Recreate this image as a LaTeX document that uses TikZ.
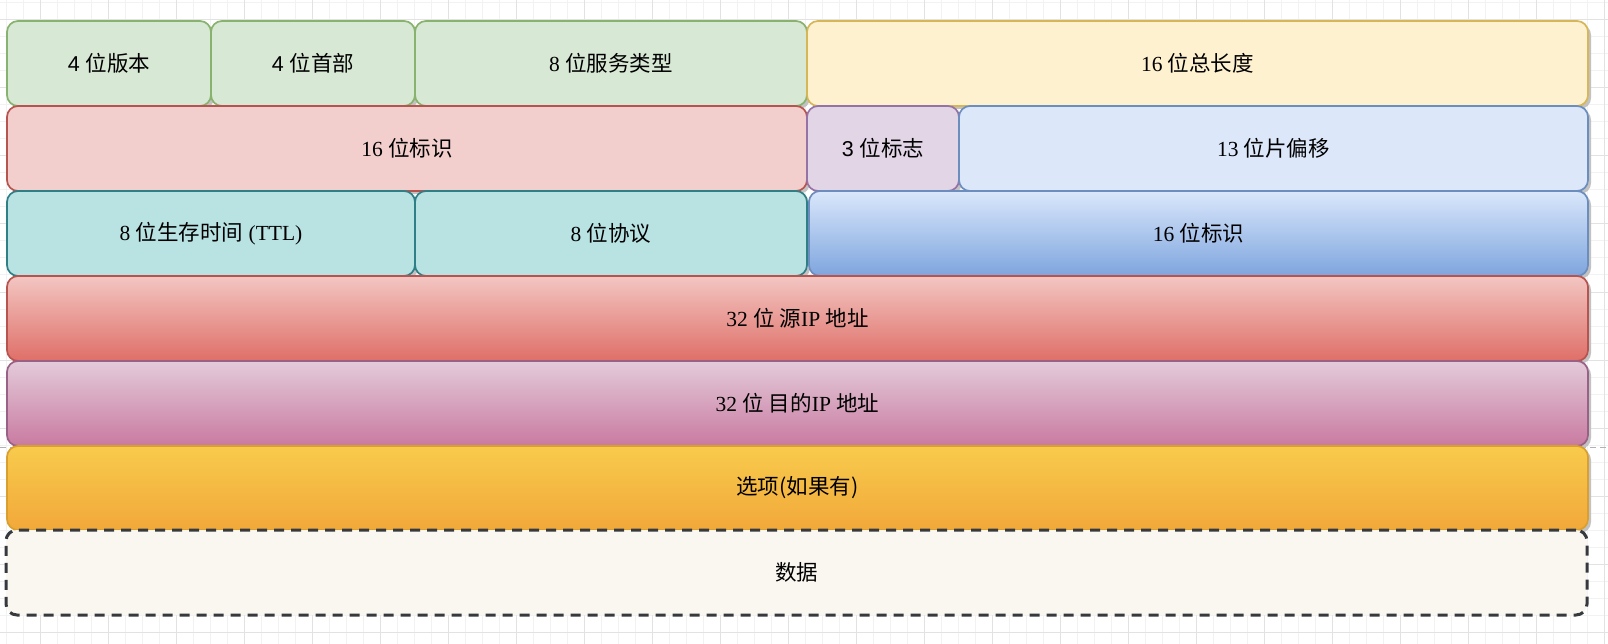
\documentclass[tikz,border=0pt]{standalone}
\usepackage{fontspec}
\setmainfont{Liberation Serif}
\setsansfont{Liberation Sans}
\newfontfamily\cjk{Noto Sans CJK SC}
\usetikzlibrary{shadows}
\newcommand{\zh}[1]{{\cjk #1}}
\definecolor{grnF}{HTML}{D7E8D4}\definecolor{grnS}{HTML}{88B26E}
\definecolor{ylwF}{HTML}{FEF1D0}\definecolor{ylwS}{HTML}{D6B656}
\definecolor{redF}{HTML}{F2CFCD}\definecolor{redS}{HTML}{B85450}
\definecolor{purF}{HTML}{E1D5E6}\definecolor{purS}{HTML}{9673A6}
\definecolor{bluF}{HTML}{DCE7FA}\definecolor{bluS}{HTML}{6C8EBF}
\definecolor{telF}{HTML}{B9E2E3}\definecolor{telS}{HTML}{2F7F86}
\definecolor{bgT}{HTML}{DAE7FB}\definecolor{bgB}{HTML}{7EA5DE}
\definecolor{rgT}{HTML}{F3C6C2}\definecolor{rgB}{HTML}{DF6F68}
\definecolor{pgT}{HTML}{E3CBDA}\definecolor{pgB}{HTML}{C97AA0}\definecolor{pgS}{HTML}{996185}
\definecolor{ogT}{HTML}{F8CB4C}\definecolor{ogB}{HTML}{F2A83A}\definecolor{ogS}{HTML}{D9A030}
\definecolor{datF}{HTML}{F9F7EF}\definecolor{datS}{HTML}{36393D}
\definecolor{gridMinor}{HTML}{F2F2F2}\definecolor{gridMajor}{HTML}{E2E2E2}
\tikzset{
  ipbox/.style={rectangle, rounded corners=11pt, line width=1.7pt, inner sep=0pt,
    font=\fontsize{21.5}{26}\selectfont, text=black,
    drop shadow={shadow xshift=3pt, shadow yshift=-3pt, fill=black!24, opacity=1}},
  gbox/.style={ipbox, draw=grnS, fill=grnF},
  ybox/.style={ipbox, draw=ylwS, fill=ylwF},
  rbox/.style={ipbox, draw=redS, fill=redF},
  pbox/.style={ipbox, draw=purS, fill=purF},
  bbox/.style={ipbox, draw=bluS, fill=bluF},
  tbox/.style={ipbox, draw=telS, fill=telF},
  bgrad/.style={ipbox, draw=bluS, top color=bgT, bottom color=bgB},
  rgrad/.style={ipbox, draw=redS, top color=rgT, bottom color=rgB},
  pgrad/.style={ipbox, draw=pgS, top color=pgT, bottom color=pgB},
  ograd/.style={ipbox, draw=ogS, top color=ogT, bottom color=ogB},
  dbox/.style={rectangle, rounded corners=11pt, line width=3pt, inner sep=0pt,
    font=\fontsize{21.5}{26}\selectfont, text=black,
    draw=datS, fill=datF, dash pattern=on 10pt off 7pt},
}
% \ipnode{name}{x1}{y1}{x2}{y2}{style}{text}
\newcommand{\ipnode}[7]{%
  \node[#6, minimum width={#4pt-#2pt}, minimum height={#5pt-#3pt}]
    (#1) at ({(#2+#4)/2},{(#3+#5)/2}) {#7};}
\begin{document}
\begin{tikzpicture}[x=1pt,y=-1pt]
\useasboundingbox (0,0) rectangle (1608,644);
\fill[white] (0,0) rectangle (1608,644);
% grid
\foreach \gx in {6.7,23.7,...,1608} \draw[gridMinor, line width=1pt] (\gx,0) -- (\gx,644);
\foreach \gy in {3,20,...,644} \draw[gridMinor, line width=1pt] (0,\gy) -- (1608,\gy);
\foreach \gx in {40.7,108.7,...,1608} \draw[gridMajor, line width=1pt] (\gx,0) -- (\gx,644);
\foreach \gy in {20,88,...,644} \draw[gridMajor, line width=1pt] (0,\gy) -- (1608,\gy);
% page break
\draw[black!30, line width=1pt, dash pattern=on 6pt off 4pt] (0,447) -- (1608,447);
% row 1
\ipnode{ver}{7}{21}{211}{106}{gbox}{\sffamily 4 \zh{位版本}}
\ipnode{ihl}{211}{21}{415}{106}{gbox}{\sffamily 4 \zh{位首部}}
\ipnode{tos}{415}{21}{807}{106}{gbox}{8 \zh{位服务类型}}
\ipnode{len}{807}{21}{1588}{106}{ybox}{16 \zh{位总长度}}
% row 2
\ipnode{ident}{7}{106}{807}{191}{rbox}{16 \zh{位标识}}
\ipnode{flags}{807}{106}{959}{191}{pbox}{\sffamily 3 \zh{位标志}}
\ipnode{frag}{959}{106}{1588}{191}{bbox}{13 \zh{位片偏移}}
% row 3
\ipnode{ttl}{7}{191}{415}{276}{tbox}{8 \zh{位生存时间} (TTL)}
\ipnode{proto}{415}{191}{807}{276}{tbox}{8 \zh{位协议}}
\ipnode{chk}{809}{191}{1588}{276}{bgrad}{16 \zh{位标识}}
% rows 4-7
\ipnode{src}{7}{276}{1588}{361}{rgrad}{32 \zh{位 源}IP \zh{地址}}
\ipnode{dst}{7}{361}{1588}{446}{pgrad}{32 \zh{位 目的}IP \zh{地址}}
\ipnode{opt}{7}{446}{1588}{530}{ograd}{\zh{选项(如果有)}}
\ipnode{data}{6}{530}{1587}{615}{dbox}{\zh{数据}}
\end{tikzpicture}
\end{document}
